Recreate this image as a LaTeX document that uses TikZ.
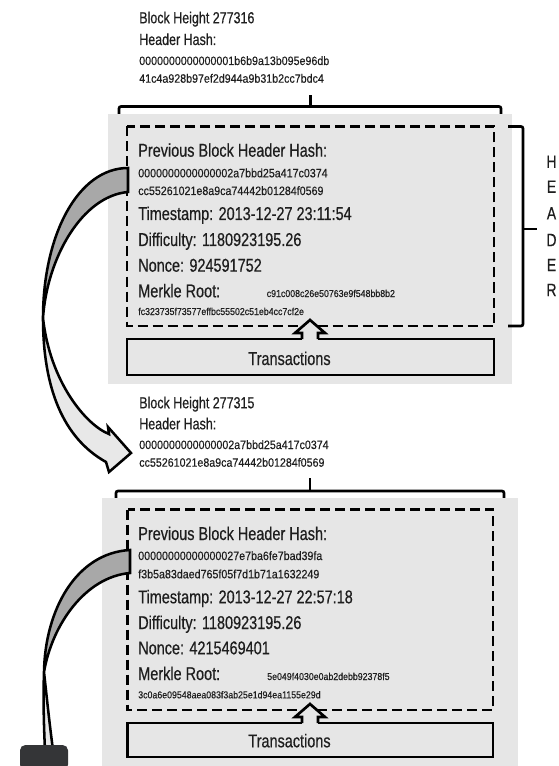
\documentclass[tikz,border=0pt]{standalone}
\usepackage{fontspec}
\setmainfont{Liberation Sans}
\newfontfamily\condfont{Liberation Sans}[FakeStretch=0.78, FakeBold=0.5]
\newfontfamily\hexfont{Liberation Sans}[FakeStretch=0.88, FakeBold=0.35]

\definecolor{panel}{RGB}{230,230,230}
\definecolor{ribbon}{RGB}{168,168,168}
\definecolor{ribbonlight}{RGB}{232,232,232}
\definecolor{slab}{RGB}{52,53,55}
\definecolor{ink}{RGB}{30,30,30}

\tikzset{
  lbl/.style={anchor=base west, inner sep=0pt, text=ink, font=\condfont\fontsize{12}{14}\selectfont},
  field/.style={anchor=base west, inner sep=0pt, text=ink, font=\condfont\fontsize{13.9}{16}\selectfont},
  hexline/.style={anchor=base west, inner sep=0pt, text=ink, font=\hexfont\fontsize{9.1}{11}\selectfont},
  merkle/.style={anchor=base west, inner sep=0pt, text=ink, font=\hexfont\fontsize{7.5}{9}\selectfont},
  txtitle/.style={anchor=base, inner sep=0pt, text=ink, font=\condfont\fontsize{13.9}{16}\selectfont},
  letter/.style={inner sep=0pt, text=ink, font=\condfont\fontsize{13.4}{15}\selectfont},
  frame/.style={line width=2pt},
  hdrbox/.style={line width=2pt, dash pattern=on 7.5pt off 3.75pt},
  brace/.style={line width=2pt, rounded corners=1.5pt},
  uparrow/.style={line width=2pt, fill=panel, line join=miter},
  ribbonline/.style={line width=1.9pt, line join=miter},
}

\begin{document}
\begin{tikzpicture}[x=0.75pt,y=-0.75pt]
\useasboundingbox (0,0) rectangle (558,766);

% ---------------- block 277316 ----------------
\node[lbl]     (hA)  at (139,23.3) {Block Height 277316};
\node[lbl]     (hhA) at (139,45)   {Header Hash:};
\node[hexline] (hxA1) at (139,65)  {0000000000000001b6b9a13b095e96db};
\node[hexline] (hxA2) at (139,82.7) {41c4a928b97ef2d944a9b31b2cc7bdc4};

% block brace
\coordinate (bkAtick) at (310.5,95);
\draw[brace] (119,118) -- (119,106.5) -- (501,106.5) -- (501,118);
\draw[brace] (310.5,106.5) -- (bkAtick);

% block panel
\fill[panel] (108,114) rectangle (512,383.5);

% header (dashed)
\draw[hdrbox] (127,126.5) rectangle (494,326);

\node[field]   (pvA)  at (138,156.7) {Previous Block Header Hash:};
\node[hexline] (pvA1) at (138,177.3) {0000000000000002a7bbd25a417c0374};
\node[hexline] (pvA2) at (138,195)   {cc55261021e8a9ca74442b01284f0569};
\node[field]   (tsA)  at (138,220)   {Timestamp: 2013-12-27 23:11:54};
\node[field]   (dfA)  at (138,246)   {Difficulty: 1180923195.26};
\node[field]   (ncA)  at (138,271.7) {Nonce: 924591752};
\node[field]   (mrA)  at (138,297.3) {Merkle Root:};
\node[merkle]  (mrA1) at (266.5,297) {c91c008c26e50763e9f548bb8b2};
\node[merkle]  (mrA2) at (138,315)   {fc323735f73577effbc55502c51eb4cc7cf2e};

% transactions
\draw[frame] (127,339) rectangle (494,375);
\node[txtitle] (txA) at (289.5,365) {Transactions};
\coordinate (txAtop) at (310,339);
\fill[panel] (302,333) rectangle (318,341.5);
\draw[uparrow] ([xshift=-6pt]txAtop) -- ++(0,-6) -- ++(-7,0) -- (310,320)
  -- (325,333) -- ++(-7,0) -- ([xshift=6pt]txAtop);

% HEADER brace and letters
\coordinate (hdrtick) at (537,229);
\draw[brace] (508,126.5) -- (523,126.5) -- (523,326) -- (508,326);
\draw[brace] (523,229) -- (hdrtick);
\node[letter] (L1) at (551.5,161.7) {H};
\node[letter] (L2) at (551.5,186.7) {E};
\node[letter] (L3) at (551.5,213.3) {A};
\node[letter] (L4) at (551.5,240)   {D};
\node[letter] (L5) at (551.5,265)   {E};
\node[letter] (L6) at (551.5,290)   {R};

% ---------------- block 277315 ----------------
\node[lbl]     (hB)  at (139,408.3) {Block Height 277315};
\node[lbl]     (hhB) at (139,429.3) {Header Hash:};
\node[hexline] (hxB1) at (139,449)  {0000000000000002a7bbd25a417c0374};
\node[hexline] (hxB2) at (139,466.7) {cc55261021e8a9ca74442b01284f0569};

\coordinate (bkBtick) at (310,478);
\draw[brace] (116,502) -- (116,491) -- (504,491) -- (504,502);
\draw[brace] (310,491) -- (bkBtick);

\fill[panel] (102,498) rectangle (517.5,766);

\draw[hdrbox] (127.5,509.5) rectangle (493,710);

\node[field]   (pvB)  at (138,540)   {Previous Block Header Hash:};
\node[hexline] (pvB1) at (138,560)   {00000000000000027e7ba6fe7bad39fa};
\node[hexline] (pvB2) at (138,578.3) {f3b5a83daed765f05f7d1b71a1632249};
\node[field]   (tsB)  at (138,603.3) {Timestamp: 2013-12-27 22:57:18};
\node[field]   (dfB)  at (138,629)   {Difficulty: 1180923195.26};
\node[field]   (ncB)  at (138,654.3) {Nonce: 4215469401};
\node[field]   (mrB)  at (138,680)   {Merkle Root:};
\node[merkle]  (mrB1) at (267,680)   {5e049f4030e0ab2debb92378f5};
\node[merkle]  (mrB2) at (138,698.3) {3c0a6e09548aea083f3ab25e1d94ea1155e29d};

\draw[frame] (127.5,723) rectangle (493,757);
\node[txtitle] (txB) at (289.5,747.3) {Transactions};
\coordinate (txBtop) at (310,723);
\fill[panel] (302,717) rectangle (318,725.5);
\draw[uparrow] ([xshift=-6pt]txBtop) -- ++(0,-6) -- ++(-7,0) -- (310,704)
  -- (325,717) -- ++(-7,0) -- ([xshift=6pt]txBtop);

% ---------------- linking ribbons ----------------
% ribbon from header of 277316 down to the hash of 277315
\coordinate (rAtop) at (128,168);
\coordinate (rAbot) at (128,192);
\coordinate (rAturn) at (43,318);
\coordinate (rAtip) at (131,453);
\filldraw[ribbonline, fill=ribbon] (rAtop) .. controls (78,168) and (43,235) .. (rAturn)
  .. controls (47,258) and (82,196) .. (rAbot) -- cycle;
\filldraw[ribbonline, fill=ribbonlight] (rAturn) .. controls (43,388) and (63,438) .. (106,462)
  -- (109,472) -- (rAtip) -- (108,427) -- (109,434)
  .. controls (86,425) and (50,382) .. (rAturn) -- cycle;

% ribbon from header of 277315 down to the block below
\coordinate (rBtop) at (130,550);
\coordinate (rBbot) at (130,573);
\coordinate (rBturn) at (44,672);
\filldraw[ribbonline, fill=ribbon] (rBtop) .. controls (76,553) and (45,610) .. (rBturn)
  .. controls (52,625) and (85,577) .. (rBbot) -- cycle;
\filldraw[ribbonline, fill=ribbonlight] (rBturn) .. controls (43,700) and (44,730) .. (45,750)
  -- (53,750) .. controls (49,720) and (46,690) .. (rBturn) -- cycle;

% next block (partly visible)
\fill[slab, rounded corners=4pt] (20,770) -- (20,745) -- (68,745) -- (68,770) -- cycle;
\end{tikzpicture}
\end{document}
